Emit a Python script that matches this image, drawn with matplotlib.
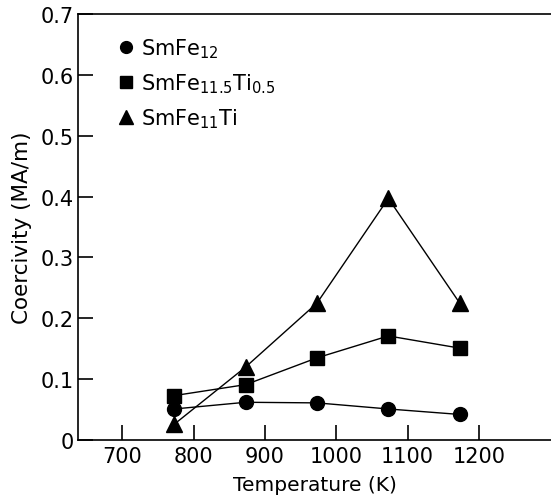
import matplotlib
matplotlib.use("Agg")
import matplotlib.pyplot as plt
from matplotlib.lines import Line2D

# temperatures (K) and coercivity (MA/m)
temps = [773, 873, 973, 1073, 1173]
smfe12 = [0.051, 0.062, 0.061, 0.051, 0.042]
smfe115ti05 = [0.073, 0.091, 0.135, 0.171, 0.151]
smfe11ti = [0.026, 0.120, 0.225, 0.397, 0.225]

labels = [r"SmFe$_{12}$", r"SmFe$_{11.5}$Ti$_{0.5}$", r"SmFe$_{11}$Ti"]
xticks = [700, 800, 900, 1000, 1100, 1200]
yticks = [0, 0.1, 0.2, 0.3, 0.4, 0.5, 0.6, 0.7]

plt.rcParams["font.family"] = "DejaVu Sans"
plt.rcParams["mathtext.default"] = "regular"

fig = plt.figure(figsize=(5.51, 5.02), dpi=100)
ax = fig.add_axes([0.1416, 0.1215, 0.8584, 0.8486])

ax.plot(temps, smfe12, "k-", marker="o", ms=10, lw=1)
ax.plot(temps, smfe115ti05, "k-", marker="s", ms=10, lw=1)
ax.plot(temps, smfe11ti, "k-", marker="^", ms=11, lw=1)

ax.set_xlim(638, 1301)
ax.set_ylim(0, 0.7)
ax.set_xticks(xticks)
ax.set_yticks(yticks)
ax.set_yticklabels(["0", "0.1", "0.2", "0.3", "0.4", "0.5", "0.6", "0.7"])
ax.tick_params(direction="in", length=11, width=1.2, labelsize=15)
ax.tick_params(axis="x", pad=4)
ax.tick_params(axis="y", pad=3)
ax.spines["right"].set_visible(False)
for s in ["left", "bottom", "top"]:
    ax.spines[s].set_linewidth(1.2)

ax.set_xlabel("Temperature (K)", fontsize=14.5, labelpad=7)
ax.set_ylabel("Coercivity (MA/m)", fontsize=15.5, labelpad=6)

handles = [Line2D([], [], color="k", ls="none", marker=m, ms=s)
           for m, s in [("o", 8.5), ("s", 8.5), ("^", 9.5)]]
ax.legend(handles, labels, loc="upper left", bbox_to_anchor=(0.065, 0.972),
          frameon=False, fontsize=15, handlelength=0.7, handletextpad=0.35,
          labelspacing=0.55, borderpad=0)

fig.savefig("out.png", dpi=100)
